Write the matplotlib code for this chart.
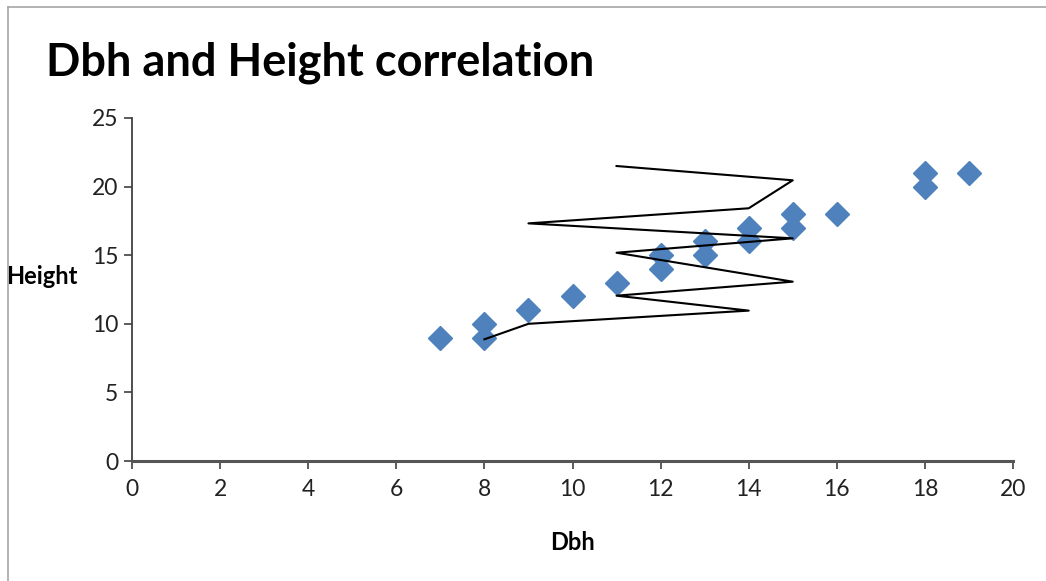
"""Dbh and Height correlation - scatter of tree measurements with a black line series."""
import matplotlib

matplotlib.use("Agg")
import matplotlib.pyplot as plt
from matplotlib.lines import Line2D
from matplotlib.patches import Rectangle

plt.rcParams["font.family"] = ["Lato", "DejaVu Sans"]

# scatter series (diamonds)
dbh = [7, 8, 8, 9, 10, 11, 12, 12, 13, 13, 14, 14, 15, 15, 16, 18, 18, 19]
height = [9, 10, 9, 11, 12, 13, 15, 14, 16, 15, 17, 16, 18, 17, 18, 21, 20, 21]

# black line series, drawn in data order
line_x = [8, 9, 14, 11, 15, 11, 15, 9, 14, 15, 11]
line_y = [8.87, 10.0, 10.96, 12.05, 13.07, 15.18, 16.23, 17.32, 18.42, 20.46, 21.5]

x_ticks = list(range(0, 21, 2))
y_ticks = list(range(0, 26, 5))

W, H = 1046, 581
fig = plt.figure(figsize=(W / 100, H / 100), dpi=100)
ax = fig.add_axes([132 / W, 1 - 461 / H, (1013 - 132) / W, (461 - 118) / H])

ax.plot(line_x, line_y, color="black", lw=1.5, zorder=3)
ax.plot(dbh, height, ls="none", marker="D", ms=12.5, color="#4f81bd", zorder=2)

ax.set_xlim(0, 20)
ax.set_ylim(0, 25)
ax.set_xticks(x_ticks)
ax.set_yticks(y_ticks)
ax.tick_params(axis="both", direction="out", length=6, width=1.2, color="#404040",
               labelsize=16.5, labelcolor="#222222")
ax.tick_params(axis="x", pad=7)
ax.tick_params(axis="y", pad=4)
for side in ("top", "right"):
    ax.spines[side].set_visible(False)
ax.spines["left"].set_color("#404040")
ax.spines["left"].set_linewidth(1.3)
ax.spines["bottom"].set_color("#555555")
ax.spines["bottom"].set_linewidth(2.2)

ax.set_xlabel("Dbh", fontsize=17, fontweight="bold", labelpad=22)

fig.text(78 / W, 1 - 276 / H, "Height", ha="right", va="center",
         fontsize=17, fontweight="bold", zorder=3)
fig.text(46 / W, 1 - 75 / H, "Dbh and Height correlation", ha="left", va="baseline",
         fontsize=32.5, fontweight="bold")

# chart-area border: only the top and left edges show in the picture
fig.patches.append(Rectangle((0, 0), 7.5 / W, 1, transform=fig.transFigure,
                             facecolor="white", edgecolor="none", zorder=10))
fig.lines.append(Line2D([7.5 / W, 7.5 / W], [0, 1 - 6.5 / H], transform=fig.transFigure,
                        color="#a6a6a6", lw=1.2, zorder=11))
fig.lines.append(Line2D([7.5 / W, 1], [1 - 6.5 / H, 1 - 6.5 / H], transform=fig.transFigure,
                        color="#a6a6a6", lw=1.2, zorder=11))

fig.savefig("out.png", dpi=100)
plt.close(fig)
